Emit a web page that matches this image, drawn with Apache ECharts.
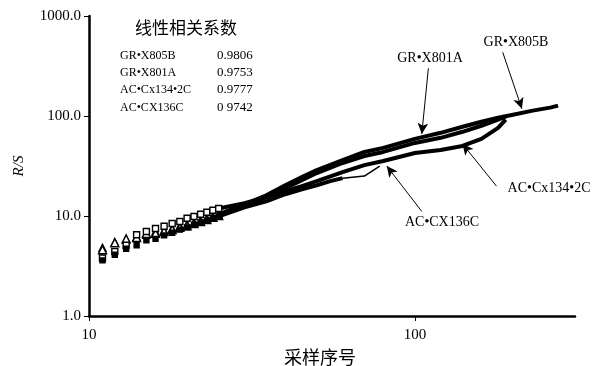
<!DOCTYPE html>
<html>
<head>
<meta charset="utf-8">
<script src="https://cdn.jsdelivr.net/npm/echarts@6/dist/echarts.min.js"></script>
<style>
  html, body { margin: 0; padding: 0; background: #fff; }
  #chart { width: 597px; height: 366px; }
</style>
</head>
<body>
<div id="chart"></div>
<script>
// sample index (x) and R/S (y)
const xGr805b = [11, 12, 13, 14, 15, 16, 17, 18, 19, 20, 21, 22, 23, 24, 25,
  30, 35, 40, 45, 50, 60, 70, 80, 100, 120, 140, 160, 180, 200, 230, 260, 275];
const yGr805b = [4.8, 5.5, 5.8, 6.2, 6.5, 7.0, 7.2, 7.5, 7.9, 8.2, 8.6, 9.0, 9.5, 9.9, 10.4,
  13.1, 16.1, 20.3, 24.5, 28.8, 36.3, 43.7, 48.0, 59.1, 67.9, 78.0, 87.6, 96.1, 103.1, 113.1, 121.2, 127.0];

const xGr801a = [11, 12, 13, 14, 15, 16, 17, 18, 19, 20, 21, 22, 23, 24, 25,
  30, 35, 40, 45, 50, 60, 70, 80, 100, 120, 140, 160, 180, 190];
const yGr801a = [4.6, 5.4, 5.9, 6.1, 6.7, 6.7, 7.0, 7.3, 7.7, 8.0, 8.4, 8.8, 9.2, 9.7, 10.1,
  12.5, 15.4, 19.0, 22.8, 26.9, 33.9, 39.8, 43.7, 53.8, 60.5, 69.5, 79.9, 91.8, 98.4];

const xAc134 = [11, 12, 13, 14, 15, 16, 17, 18, 19, 20, 21, 22, 23, 24, 25,
  30, 35, 40, 45, 50, 60, 70, 80, 100, 120, 140, 160, 180, 190];
const yAc134 = [3.8, 4.4, 5.1, 6.5, 7.0, 7.5, 7.9, 8.4, 8.8, 9.5, 9.9, 10.4, 10.9, 11.4, 11.9,
  13.4, 15.4, 17.7, 19.9, 22.3, 27.5, 32.3, 35.5, 42.7, 45.8, 50.2, 59.1, 76.2, 91.8];

const xAc136 = [11, 12, 13, 14, 15, 16, 17, 18, 19, 20, 21, 22, 23, 24, 25,
  30, 35, 40, 45, 50, 55, 60, 70, 78];
const yAc136 = [3.6, 4.1, 4.7, 5.1, 5.7, 5.9, 6.4, 6.8, 7.3, 7.7, 8.2, 8.6, 9.0, 9.5, 9.9,
  12.2, 14.0, 16.5, 18.5, 20.3, 22.3, 23.9, 25.1, 31.6];

const seriesNames = ['GR•X805B', 'GR•X801A', 'AC•Cx134•2C', 'AC•CX136C'];
const corrValues = ['0.9806', '0.9753', '0.9777', '0 9742'];

// arrows: [tail x, tail y] -> [head x, head y] in data units
const arrowTail = [[186, 434], [110, 300], [178, 19.9], [105, 11.1]];
const arrowHead = [[213, 118], [105, 66], [140, 52.6], [82, 31.6]];

const xTicks = [10, 100];

const pairs = (xs, ys) => xs.map((x, i) => [x, ys[i]]);
const serif = '"Liberation Serif", "DejaVu Serif", serif';
const cjk = '"Noto Sans CJK SC", sans-serif';

const sets = [
  { name: seriesNames[0], data: pairs(xGr805b, yGr805b), symbol: 'triangle', size: 7, fill: '#000' },
  { name: seriesNames[1], data: pairs(xGr801a, yGr801a), symbol: 'triangle', size: 8, fill: '#fff' },
  { name: seriesNames[2], data: pairs(xAc134, yAc134), symbol: 'rect', size: 6, fill: '#fff' },
  { name: seriesNames[3], data: pairs(xAc136, yAc136), symbol: 'rect', size: 5, fill: '#000' },
];

const series = [];
sets.forEach((s, i) => {
  // separate markers at the small indices
  series.push({
    name: s.name,
    type: 'scatter',
    data: s.data.filter((d) => d[0] <= 25),
    symbol: s.symbol,
    symbolSize: s.size,
    itemStyle: { color: s.fill, borderColor: '#000', borderWidth: 1.4, opacity: 1 },
    z: 3,
  });
  // dense part reads as a thick band
  const last = i === 3 ? 60 : Infinity;
  series.push({
    name: s.name,
    type: 'line',
    data: s.data.filter((d) => d[0] >= 25 && d[0] <= last),
    showSymbol: false,
    lineStyle: { color: '#000', width: 4 },
    z: 2,
  });
});
// last sparse points of AC•CX136C, thin line
series.push({
  name: seriesNames[3],
  type: 'line',
  data: sets[3].data.filter((d) => d[0] >= 60),
  showSymbol: false,
  lineStyle: { color: '#000', width: 1.5 },
  z: 2,
});
// arrows
series.push({
  type: 'line',
  data: [],
  silent: true,
  markLine: {
    silent: true,
    animation: false,
    symbol: ['none', 'arrow'],
    symbolSize: [8, 11],
    label: { show: false },
    lineStyle: { color: '#000', width: 1, type: 'solid' },
    data: arrowTail.map((t, i) => [{ coord: t }, { coord: arrowHead[i] }]),
  },
});

const graphic = [
  {
    type: 'text', x: 186, y: 28,
    style: { text: '线性相关系数', font: '17px ' + cjk, fill: '#000', textAlign: 'center', textVerticalAlign: 'middle' },
  },
];
[56, 73, 90, 108].forEach((y, i) => {
  graphic.push({
    type: 'text', x: 120, y,
    style: { text: seriesNames[i], font: '12px ' + serif, fill: '#000', textVerticalAlign: 'middle' },
  });
  graphic.push({
    type: 'text', x: 217, y,
    style: { text: corrValues[i], font: '13px ' + serif, fill: '#000', textVerticalAlign: 'middle' },
  });
});
// labels next to the arrows
[[516, 42], [430, 58], [549, 188], [442, 222]].forEach((p, i) => {
  graphic.push({
    type: 'text', x: p[0], y: p[1],
    style: { text: seriesNames[i], font: '14px ' + serif, fill: '#000', textAlign: 'center', textVerticalAlign: 'middle' },
  });
});

const chart = echarts.init(document.getElementById('chart'));
chart.setOption({
  animation: false,
  backgroundColor: '#fff',
  grid: { left: 89, right: 22, top: 16, bottom: 50, outerBoundsMode: 'none', containLabel: false },
  xAxis: {
    type: 'log',
    logBase: 10,
    min: 10,
    max: 310,
    name: '采样序号',
    nameLocation: 'middle',
    nameGap: 26,
    nameTextStyle: { fontFamily: cjk, fontSize: 18, color: '#000', padding: [0, 24, 0, 0] },
    axisLine: { lineStyle: { color: '#000', width: 2.5 } },
    axisTick: { customValues: xTicks, length: 5, inside: false, lineStyle: { color: '#000' } },
    axisLabel: { customValues: xTicks, color: '#000', fontFamily: serif, fontSize: 15, margin: 12 },
    splitLine: { show: false },
    minorTick: { show: false },
  },
  yAxis: {
    type: 'log',
    logBase: 10,
    min: 1,
    max: 1000,
    name: 'R/S',
    nameLocation: 'middle',
    nameGap: 62,
    nameRotate: 90,
    nameTextStyle: { fontFamily: serif, fontSize: 15, fontStyle: 'italic', color: '#000' },
    axisLine: { lineStyle: { color: '#000', width: 2.5 } },
    axisTick: { length: 5, lineStyle: { color: '#000' } },
    axisLabel: {
      color: '#000', fontFamily: serif, fontSize: 15, margin: 8,
      formatter: (v) => Number(v).toFixed(1),
    },
    splitLine: { show: false },
  },
  series,
  graphic,
});
</script>
</body>
</html>
